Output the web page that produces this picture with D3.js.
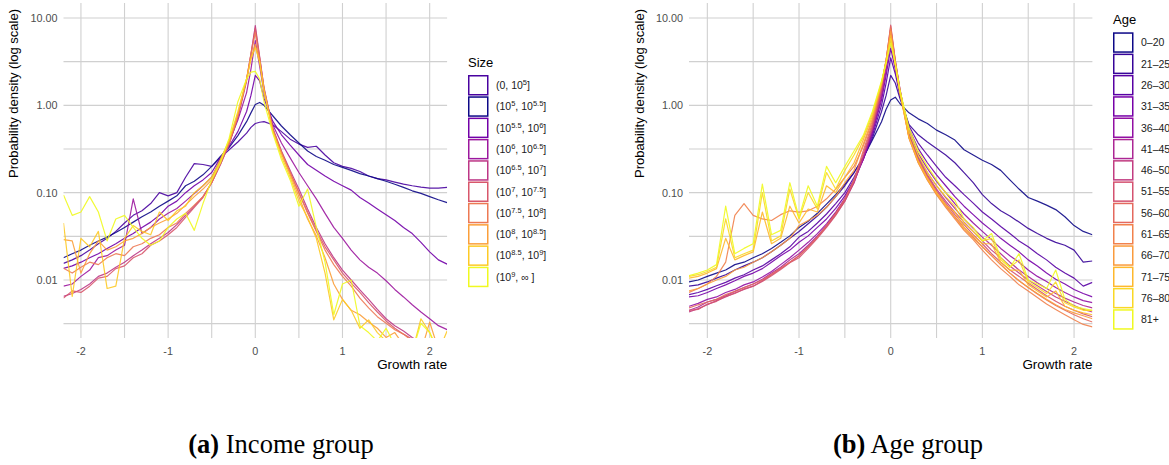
<!DOCTYPE html>
<html>
<head>
<meta charset="utf-8">
<script src="https://cdn.jsdelivr.net/npm/d3@7"></script>
<style>
body { margin: 0; background: #fff; }
svg text { font-family: "Liberation Sans", Arial, sans-serif; }
</style>
</head>
<body>
<svg id="chart" width="1169" height="465"></svg>
<script>
// growth rate grid shared by every curve
var growth = [-2.2,-2.1,-2.0,-1.9,-1.8,-1.7,-1.6,-1.5,-1.4,-1.3,-1.2,
  -1.1,-1.0,-0.9,-0.8,-0.7,-0.6,-0.5,-0.4,-0.3,-0.2,-0.1,
  -0.05,0,0.05,
  0.1,0.2,0.3,0.4,0.5,0.6,0.7,0.8,0.9,1.0,1.1,
  1.2,1.3,1.4,1.5,1.6,1.7,1.8,1.9,2.0,2.1,2.2];

// (a) income group
var sizeLabels = ["(0, 10^{5}]", "(10^{5}, 10^{5.5}]", "(10^{5.5}, 10^{6}]", "(10^{6}, 10^{6.5}]",
  "(10^{6.5}, 10^{7}]", "(10^{7}, 10^{7.5}]", "(10^{7.5}, 10^{8}]", "(10^{8}, 10^{8.5}]",
  "(10^{8.5}, 10^{9}]", "(10^{9}, \u221e  ]"];
var sizeColors = ["#4903a0", "#0d0887", "#7201a8", "#9c179e", "#bd3786",
  "#d8576b", "#ed7953", "#fb9f3a", "#fdca26", "#f0f921"];

var size1 = [0.0155,0.017,0.019,0.022,0.026,0.03,0.036,0.045,0.055,0.062,0.075,
  0.1,0.092,0.1,0.15,0.215,0.21,0.2,0.25,0.31,0.38,0.48,
  0.56,0.62,0.64,
  0.65,0.6,0.5,0.41,0.36,0.33,0.34,0.27,0.22,0.2,0.19,
  0.175,0.155,0.145,0.14,0.132,0.125,0.12,0.116,0.113,0.113,0.115];
var size2 = [0.018,0.02,0.022,0.025,0.028,0.031,0.035,0.04,0.046,0.053,0.06,
  0.07,0.08,0.092,0.12,0.135,0.16,0.2,0.26,0.33,0.45,0.65,
  0.82,1.02,1.08,
  1.0,0.76,0.58,0.46,0.37,0.3,0.26,0.235,0.21,0.195,0.18,
  0.165,0.155,0.145,0.135,0.125,0.115,0.105,0.098,0.09,0.083,0.077];
var size3 = [0.0136,0.0145,0.016,0.018,0.02,0.023,0.026,0.03,0.034,0.04,0.046,
  0.055,0.07,0.08,0.1,0.12,0.14,0.17,0.25,0.34,0.5,0.85,
  1.3,2.2,1.9,
  1.2,0.66,0.46,0.35,0.27,0.21,0.18,0.155,0.135,0.12,0.107,
  0.088,0.076,0.065,0.056,0.048,0.04,0.034,0.027,0.021,0.017,0.0152];
var size4 = [0.0085,0.009,0.011,0.013,0.018,0.019,0.022,0.025,0.085,0.034,0.04,
  0.05,0.058,0.066,0.08,0.098,0.12,0.15,0.24,0.38,0.68,1.4,
  2.6,5.5,2.8,
  1.4,0.6,0.37,0.25,0.17,0.12,0.085,0.058,0.04,0.03,0.022,
  0.017,0.014,0.012,0.0098,0.0078,0.0064,0.0052,0.0043,0.0036,0.003,0.0027];
var size5 = [0.0065,0.007,0.0078,0.009,0.011,0.012,0.014,0.016,0.019,0.022,0.026,
  0.03,0.035,0.043,0.055,0.07,0.09,0.13,0.21,0.36,0.72,1.9,
  3.8,8.2,3.6,
  1.6,0.55,0.3,0.18,0.11,0.065,0.04,0.026,0.018,0.013,0.01,
  0.0077,0.006,0.0046,0.0036,0.003,0.0026,0.0022,0.0019,0.0017,0.0015,0.0014];
var size6 = [0.0062,0.0075,0.0072,0.0085,0.0105,0.011,0.0135,0.0145,0.018,0.02,0.025,
  0.028,0.033,0.04,0.052,0.068,0.088,0.13,0.21,0.36,0.74,2.0,
  3.9,7.6,3.5,
  1.55,0.54,0.29,0.17,0.1,0.06,0.037,0.024,0.017,0.012,0.0092,
  0.0072,0.0055,0.0043,0.0034,0.0028,0.0024,0.0021,0.0019,0.0017,0.0016,0.0015];
var size7 = [0.0136,0.012,0.014,0.016,0.015,0.018,0.02,0.019,0.024,0.026,0.03,
  0.033,0.04,0.045,0.058,0.072,0.09,0.13,0.22,0.37,0.76,2.0,
  3.8,6.8,3.4,
  1.5,0.53,0.29,0.17,0.1,0.058,0.036,0.022,0.015,0.011,0.0085,
  0.0062,0.0048,0.0038,0.0032,0.0027,0.0024,0.002,0.0018,0.0017,0.0015,0.0014];
var size8 = [0.029,0.028,0.012,0.02,0.028,0.022,0.024,0.028,0.03,0.034,0.04,
  0.045,0.05,0.058,0.072,0.09,0.11,0.14,0.23,0.38,0.8,2.0,
  3.5,5.0,3.2,
  1.5,0.52,0.28,0.16,0.09,0.05,0.032,0.018,0.009,0.006,0.0045,
  0.004,0.0033,0.0028,0.0022,0.0025,0.0018,0.0016,0.0015,0.0033,0.0016,0.0015];
var size9 = [0.045,0.0065,0.03,0.024,0.036,0.008,0.0085,0.03,0.042,0.036,0.033,
  0.06,0.048,0.062,0.07,0.1,0.12,0.15,0.24,0.4,0.85,2.0,
  3.4,4.6,3.1,
  1.45,0.5,0.26,0.15,0.08,0.052,0.03,0.012,0.0035,0.006,0.0045,
  0.0028,0.0035,0.0025,0.002,0.0018,0.0016,0.0015,0.0036,0.0025,0.0015,0.0026];
var size10 = [0.094,0.055,0.06,0.09,0.06,0.028,0.05,0.055,0.04,0.03,0.025,
  0.028,0.04,0.05,0.058,0.037,0.075,0.14,0.22,0.42,1.1,2.0,
  2.4,2.45,2.0,
  1.1,0.48,0.24,0.14,0.07,0.11,0.04,0.016,0.004,0.009,0.01,
  0.003,0.0025,0.002,0.0028,0.0018,0.0015,0.0015,0.0032,0.0025,0.0015,0.0015];

// (b) age group
var ageLabels = ["0\u201320", "21\u201325", "26\u201330", "31\u201335", "36\u201340", "41\u201345", "46\u201350",
  "51\u201355", "56\u201360", "61\u201365", "66\u201370", "71\u201375", "76\u201380", "81+"];

var age1 = [0.0095,0.01,0.011,0.012,0.013,0.015,0.016,0.018,0.02,0.023,0.027,
  0.032,0.04,0.047,0.058,0.074,0.095,0.125,0.17,0.25,0.4,0.65,
  0.9,1.15,1.24,
  1.05,0.82,0.7,0.62,0.52,0.46,0.4,0.31,0.27,0.235,0.21,
  0.18,0.14,0.11,0.088,0.08,0.072,0.064,0.053,0.042,0.036,0.033];
var age2 = [0.0085,0.0088,0.0095,0.0105,0.0115,0.013,0.0145,0.016,0.018,0.021,0.025,
  0.03,0.036,0.044,0.054,0.068,0.09,0.12,0.17,0.25,0.42,0.85,
  1.3,2.2,1.8,
  1.2,0.6,0.46,0.38,0.32,0.27,0.22,0.17,0.13,0.095,0.075,
  0.062,0.054,0.046,0.039,0.034,0.03,0.027,0.025,0.022,0.016,0.0165];
var age3 = [0.0068,0.0072,0.0078,0.0086,0.0094,0.0105,0.0115,0.013,0.0145,0.017,0.02,
  0.024,0.031,0.036,0.045,0.057,0.075,0.1,0.15,0.24,0.45,1.0,
  1.8,3.5,2.3,
  1.3,0.58,0.37,0.27,0.2,0.15,0.12,0.095,0.076,0.06,0.05,
  0.041,0.034,0.028,0.024,0.02,0.017,0.014,0.012,0.0105,0.0085,0.0094];
var age4 = [0.0064,0.0066,0.0072,0.008,0.0088,0.0098,0.011,0.012,0.0135,0.016,0.019,
  0.022,0.027,0.032,0.04,0.05,0.066,0.092,0.14,0.24,0.48,1.15,
  2.2,4.5,2.6,
  1.4,0.54,0.32,0.22,0.16,0.12,0.09,0.07,0.056,0.045,0.037,
  0.03,0.025,0.021,0.017,0.0145,0.012,0.0102,0.009,0.0078,0.007,0.0064];
var age5 = [0.005,0.0054,0.006,0.0064,0.0072,0.0078,0.0088,0.0095,0.0108,0.0125,0.015,
  0.018,0.022,0.027,0.034,0.044,0.06,0.086,0.135,0.24,0.5,1.25,
  2.5,5.5,2.8,
  1.45,0.5,0.28,0.19,0.135,0.1,0.075,0.057,0.045,0.036,0.029,
  0.023,0.019,0.016,0.013,0.011,0.0096,0.0082,0.0072,0.0064,0.0058,0.0055];
var age6 = [0.0045,0.0049,0.0056,0.006,0.0066,0.0074,0.0082,0.009,0.0102,0.012,0.014,
  0.017,0.02,0.025,0.032,0.042,0.058,0.082,0.13,0.25,0.52,1.35,
  2.8,6.5,3.0,
  1.5,0.47,0.26,0.17,0.12,0.088,0.066,0.05,0.039,0.031,0.025,
  0.02,0.016,0.013,0.011,0.0093,0.008,0.007,0.0062,0.0056,0.0051,0.0048];
var age7 = [0.0043,0.0047,0.0052,0.0058,0.0064,0.0071,0.0078,0.0085,0.0098,0.0115,0.0135,
  0.016,0.019,0.024,0.031,0.041,0.056,0.08,0.13,0.26,0.55,1.45,
  3.0,7.5,3.2,
  1.55,0.45,0.25,0.16,0.11,0.08,0.06,0.046,0.036,0.028,0.022,
  0.018,0.0145,0.012,0.01,0.0086,0.0074,0.0064,0.0057,0.0051,0.0046,0.0043];
var age8 = [0.0045,0.0046,0.0053,0.0057,0.0065,0.007,0.0079,0.0085,0.0096,0.0112,0.0132,
  0.0158,0.018,0.023,0.03,0.04,0.055,0.08,0.135,0.28,0.58,1.55,
  3.2,8.3,3.3,
  1.55,0.44,0.24,0.155,0.105,0.076,0.056,0.043,0.033,0.026,0.02,
  0.016,0.013,0.011,0.0092,0.0078,0.0066,0.0057,0.005,0.0045,0.0041,0.0038];
var age9 = [0.0048,0.0052,0.0056,0.006,0.0068,0.0074,0.0082,0.009,0.01,0.0116,0.0136,
  0.016,0.019,0.024,0.031,0.042,0.058,0.085,0.14,0.3,0.62,1.65,
  3.3,8.0,3.2,
  1.5,0.43,0.23,0.15,0.1,0.072,0.053,0.04,0.031,0.024,0.019,
  0.015,0.012,0.0098,0.0082,0.0069,0.0059,0.0051,0.0045,0.004,0.0036,0.0033];
var age10 = [0.0072,0.008,0.009,0.011,0.016,0.055,0.075,0.055,0.05,0.048,0.056,
  0.062,0.06,0.062,0.07,0.085,0.11,0.15,0.2,0.34,0.66,1.7,
  3.3,7.5,3.1,
  1.45,0.42,0.22,0.14,0.095,0.068,0.05,0.037,0.029,0.022,0.017,
  0.0135,0.011,0.0088,0.0075,0.0063,0.0053,0.0046,0.004,0.0035,0.0031,0.0029];
var age11 = [0.0075,0.008,0.009,0.01,0.011,0.013,0.014,0.016,0.018,0.021,0.025,
  0.03,0.042,0.048,0.055,0.068,0.09,0.13,0.18,0.36,0.7,1.75,
  3.3,7.0,3.0,
  1.4,0.42,0.22,0.14,0.095,0.07,0.052,0.038,0.03,0.024,0.019,
  0.015,0.012,0.0098,0.0082,0.007,0.006,0.0052,0.0046,0.0042,0.0039,0.0036];
var age12 = [0.0105,0.011,0.012,0.0135,0.03,0.017,0.019,0.021,0.06,0.026,0.03,
  0.07,0.045,0.065,0.06,0.12,0.1,0.15,0.22,0.4,0.75,1.8,
  3.2,6.3,2.9,
  1.4,0.43,0.23,0.145,0.1,0.072,0.06,0.04,0.032,0.026,0.026,
  0.016,0.013,0.013,0.0088,0.0075,0.0064,0.0075,0.005,0.0045,0.0042,0.004];
var age13 = [0.011,0.0115,0.0125,0.014,0.05,0.018,0.02,0.022,0.1,0.028,0.032,
  0.11,0.05,0.1,0.065,0.17,0.11,0.18,0.27,0.43,0.8,1.85,
  3.1,5.8,2.9,
  1.45,0.5,0.27,0.17,0.12,0.09,0.07,0.045,0.036,0.028,0.03,
  0.017,0.014,0.017,0.0095,0.0082,0.007,0.0095,0.0055,0.0049,0.0045,0.0045];
var age14 = [0.0112,0.012,0.013,0.015,0.07,0.02,0.023,0.026,0.125,0.033,0.037,
  0.13,0.052,0.12,0.07,0.2,0.13,0.2,0.3,0.45,0.85,1.9,
  3.0,5.2,3.0,
  1.5,0.55,0.3,0.2,0.14,0.1,0.082,0.05,0.04,0.028,0.034,
  0.018,0.014,0.02,0.01,0.009,0.008,0.013,0.006,0.005,0.0047,0.0045];

var xTicks = [-2, -1, 0, 1, 2];
var yTicks = [0.01, 0.1, 1, 10];

var sizeSeries = [size1, size2, size3, size4, size5, size6, size7, size8, size9, size10];
var ageSeries = [age1, age2, age3, age4, age5, age6, age7, age8, age9, age10, age11, age12, age13, age14];
var ageColors = ageLabels.map(function(d, i) { return d3.interpolatePlasma(i / (ageLabels.length - 1)); });

var svg = d3.select('#chart');
svg.append('rect').attr('width', 1169).attr('height', 465).attr('fill', '#fff');

var plotTop = 3, plotBottom = 338;

function drawPanel(o) {
  var x = d3.scaleLinear().domain([-2.2, 2.2]).range([o.left, o.right]);
  var y = d3.scaleLog().domain([0.01, 10]).range([280, 18]);
  var g = svg.append('g');

  // minor grid (half steps)
  var xMinor = [-1.5, -0.5, 0.5, 1.5];
  var yMinor = yTicks.map(function(d) { return d / Math.sqrt(10); });
  g.selectAll('.vgrid')
    .data(xTicks.concat(xMinor))
    .enter().append('line')
    .attr('x1', d => x(d)).attr('x2', d => x(d))
    .attr('y1', plotTop).attr('y2', plotBottom)
    .style('stroke', '#d0d0d0').style('stroke-width', 1.1);
  g.selectAll('.hgrid')
    .data(yTicks.concat(yMinor))
    .enter().append('line')
    .attr('x1', o.left).attr('x2', o.right)
    .attr('y1', d => y(d)).attr('y2', d => y(d))
    .style('stroke', '#d0d0d0').style('stroke-width', 1.1);

  // tick labels
  g.selectAll('.ylab')
    .data(yTicks)
    .enter().append('text')
    .attr('x', o.left - 6)
    .attr('y', d => y(d) + 4)
    .attr('text-anchor', 'end')
    .style('font-size', '10.8px')
    .style('fill', '#4d4d4d')
    .text(d => d3.format('.2f')(d));
  g.selectAll('.xlab')
    .data(xTicks)
    .enter().append('text')
    .attr('x', d => x(d))
    .attr('y', 355)
    .attr('text-anchor', 'middle')
    .style('font-size', '10.8px')
    .style('fill', '#4d4d4d')
    .text(d => String(d));

  g.append('text')
    .attr('x', o.right).attr('y', 369)
    .attr('text-anchor', 'end')
    .style('font-size', '13.4px')
    .text('Growth rate');
  g.append('text')
    .attr('transform', 'translate(' + (o.left - 45.5) + ',93.5) rotate(-90)')
    .attr('text-anchor', 'middle')
    .style('font-size', '13px')
    .text('Probability density (log scale)');

  // curves
  var clipId = 'clip' + o.id;
  svg.append('clipPath').attr('id', clipId)
    .append('rect').attr('x', o.left).attr('y', plotTop)
    .attr('width', o.right - o.left).attr('height', plotBottom - plotTop);

  var line = d3.line()
    .x((d, i) => x(growth[i]))
    .y(d => y(d));

  g.append('g').attr('clip-path', 'url(#' + clipId + ')')
    .selectAll('path')
    .data(o.series)
    .enter().append('path')
    .attr('d', d => line(d))
    .style('fill', 'none')
    .style('stroke', (d, i) => o.colors[i])
    .style('stroke-width', 1.2)
    .style('stroke-opacity', 0.9)
    .style('stroke-linejoin', 'round');

  // legend
  var lg = svg.append('g').attr('transform', 'translate(' + o.legX + ',' + o.legY + ')');
  lg.append('text')
    .attr('x', 0).attr('y', -8.5)
    .style('font-size', '13px')
    .text(o.title);
  var item = lg.selectAll('.item')
    .data(o.labels)
    .enter().append('g')
    .attr('transform', (d, i) => 'translate(0,' + (i * 21.3) + ')');
  item.append('rect')
    .attr('x', 0.75).attr('y', 0.75).attr('width', 19).attr('height', 19)
    .style('fill', '#fff')
    .style('stroke', (d, i) => o.colors[i])
    .style('stroke-width', 1.5);
  var txt = item.append('text')
    .attr('x', 28).attr('y', 14)
    .style('font-size', '10.5px')
    .style('fill', '#1a1a1a');
  txt.each(function(d) {
    var t = d3.select(this);
    var parts = d.split(/\^\{([^}]*)\}/);
    var shift = 0;
    parts.forEach(function(p, k) {
      if (p === '') return;
      if (k % 2 === 1) {
        t.append('tspan').attr('dy', -4 - shift).style('font-size', '7.5px').text(p);
        shift = -4;
      } else {
        t.append('tspan').attr('dy', -shift).text(p);
        shift = 0;
      }
    });
  });

  // caption
  var cap = svg.append('text')
    .attr('x', o.capX).attr('y', 453)
    .attr('text-anchor', 'middle')
    .style('font-family', '"Liberation Serif", "Times New Roman", serif')
    .style('font-size', '26.5px')
    .style('fill', '#000');
  cap.append('tspan').style('font-weight', 'bold').text(o.capTag);
  cap.append('tspan').text(' ' + o.capText);
}

drawPanel({
  id: 'a', left: 63.5, right: 447.1,
  series: sizeSeries, colors: sizeColors, labels: sizeLabels, title: 'Size',
  legX: 468, legY: 75, capX: 281, capTag: '(a)', capText: 'Income group'
});
drawPanel({
  id: 'b', left: 689, right: 1092.4,
  series: ageSeries, colors: ageColors, labels: ageLabels, title: 'Age',
  legX: 1113, legY: 32.3, capX: 908, capTag: '(b)', capText: 'Age group'
});
</script>
</body>
</html>
